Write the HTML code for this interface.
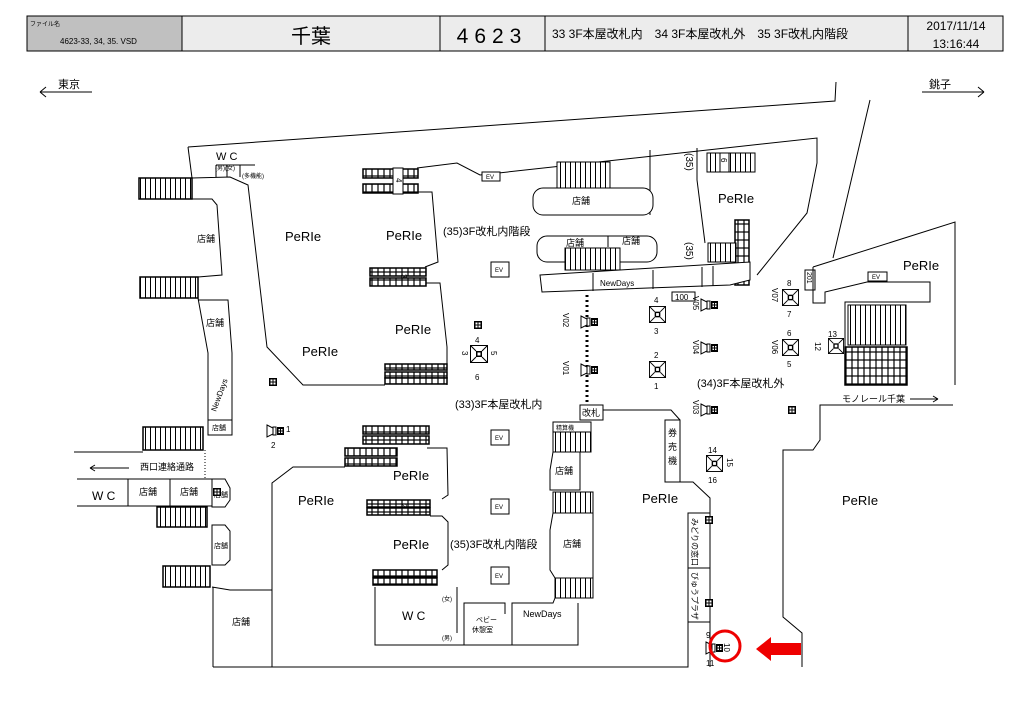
<!DOCTYPE html>
<html><head><meta charset="utf-8"><style>
body{margin:0;background:#fff;}
svg{display:block;font-family:"Liberation Sans","Noto Sans CJK JP",sans-serif;}
.l{fill:none;stroke:#000;stroke-width:1}
.t{font-size:9px}
.p{font-size:13px}
rect[fill="url(#es)"]{stroke:#000;stroke-width:1.5}
</style></head><body>
<svg width="1024" height="724" viewBox="0 0 1024 724" xmlns="http://www.w3.org/2000/svg">
<defs>
<pattern id="st" width="5" height="40" patternUnits="userSpaceOnUse"><rect width="5" height="40" fill="#fff"/><line x1="0.5" y1="0" x2="0.5" y2="40" stroke="#000" stroke-width="1"/></pattern>
<pattern id="es" width="6" height="8" patternUnits="userSpaceOnUse"><rect width="6" height="8" fill="#fff"/><rect x="0" y="0" width="6" height="8" fill="none" stroke="#000" stroke-width="1.2"/></pattern>
<symbol id="cam" viewBox="0 0 18 18"><rect x="0.5" y="0.5" width="17" height="17" fill="#fff" stroke="#000"/><path d="M0.5 0.5L6 6M17.5 0.5L12 6M0.5 17.5L6 12M17.5 17.5L12 12" stroke="#000" fill="none"/><rect x="6" y="6" width="6" height="6" fill="#000"/><rect x="7.5" y="7.5" width="3" height="3" fill="#fff"/></symbol>
<symbol id="vc" viewBox="0 0 18 14"><path d="M1 1L7 4V10L1 13Z" fill="#fff" stroke="#000"/><rect x="7" y="3" width="3" height="8" fill="#fff" stroke="#000"/><rect x="11" y="3" width="7" height="8" fill="#000"/><rect x="12.5" y="5" width="1.5" height="1.5" fill="#fff"/><rect x="15" y="5" width="1.5" height="1.5" fill="#fff"/><rect x="12.5" y="7.5" width="1.5" height="1.5" fill="#fff"/><rect x="15" y="7.5" width="1.5" height="1.5" fill="#fff"/></symbol>
<symbol id="sq" viewBox="0 0 8 8"><rect width="8" height="8" fill="#000"/><rect x="1.5" y="1.5" width="2" height="2" fill="#fff"/><rect x="4.5" y="1.5" width="2" height="2" fill="#fff"/><rect x="1.5" y="4.5" width="2" height="2" fill="#fff"/><rect x="4.5" y="4.5" width="2" height="2" fill="#fff"/></symbol>
</defs>

<!-- header -->
<rect x="27" y="16" width="976" height="35" fill="#ececec" stroke="#000"/>
<rect x="27" y="16" width="155" height="35" fill="#c0c0c0" stroke="#000"/>
<line x1="440" y1="16" x2="440" y2="51" stroke="#000"/>
<line x1="545" y1="16" x2="545" y2="51" stroke="#000"/>
<line x1="908" y1="16" x2="908" y2="51" stroke="#000"/>
<text x="30" y="26" font-size="6">ファイル名</text>
<text x="60" y="44" font-size="8">4623-33, 34, 35. VSD</text>
<text x="311" y="43" font-size="20" text-anchor="middle">千葉</text>
<text x="492" y="43" font-size="21" text-anchor="middle" letter-spacing="6">4623</text>
<text x="552" y="38" font-size="12">33 3F本屋改札内　34 3F本屋改札外　35 3F改札内階段</text>
<text x="956" y="30" font-size="12" text-anchor="middle">2017/11/14</text>
<text x="956" y="48" font-size="12" text-anchor="middle">13:16:44</text>

<!-- direction -->
<text x="58" y="88" font-size="11">東京</text>
<path d="M40 92H92M40 92l6-5M40 92l6 5" class="l"/>
<text x="929" y="88" font-size="11">銚子</text>
<path d="M922 92H984M984 92l-6-5M984 92l-6 5" class="l"/>

<!-- outer top wall -->
<path class="l" d="M188 147L835 101L836 82M870 100L833 258"/>
<!-- left corridor -->
<path class="l" d="M188 147L192 178"/>
<rect x="139" y="178" width="53" height="21" fill="url(#st)" stroke="#000" stroke-width="1.5"/>
<rect x="140" y="277" width="58" height="21" fill="url(#st)" stroke="#000" stroke-width="1.5"/>
<path class="l" d="M192 199H212L217 205L222 275L198 277M198 298L208 353V435H232V353L228 300H198"/>
<line x1="208" y1="420" x2="232" y2="420" stroke="#000"/>
<text x="197" y="242" class="t">店舗</text>
<text x="206" y="326" class="t">店舗</text>
<text x="212" y="430" font-size="7">店舗</text>
<text x="0" y="0" font-size="8" transform="translate(216,412) rotate(-70)">NewDays</text>
<!-- WC top -->
<path class="l" d="M192 178L230 177L248 185L267 347L303 385H385M216 165H255M216 165V177M227 165V177M240 165V177"/>
<text x="216" y="160" font-size="11">W C</text>
<text x="215" y="170" font-size="6">(男)(女)</text>
<text x="242" y="178" font-size="6">(多機能)</text>
<!-- stairs 4 -->
<rect x="363" y="169" width="55" height="9" fill="url(#es)"/>
<rect x="363" y="184" width="55" height="9" fill="url(#es)"/>
<rect x="393" y="168" width="10" height="26" fill="#fff" stroke="#000"/>
<text x="0" y="0" font-size="8" transform="translate(396,178) rotate(90)">4</text>
<path class="l" d="M417 168L457 163L480 175L817 138V163L807 213L757 275M417 192H432L438 262L425 267M425 283H440L447 347V385"/>
<rect x="370" y="268" width="56" height="8" fill="url(#es)"/>
<rect x="370" y="278" width="56" height="8" fill="url(#es)"/>
<text x="0" y="0" font-size="8" transform="translate(401,274) rotate(90)">3</text>
<rect x="385" y="364" width="62" height="6" fill="url(#es)"/>
<rect x="385" y="372" width="62" height="6" fill="url(#es)"/>
<rect x="385" y="378" width="62" height="6" fill="url(#es)"/>
<text x="285" y="241" class="p">PeRIe</text>
<text x="386" y="240" class="p">PeRIe</text>
<text x="302" y="356" class="p">PeRIe</text>
<text x="395" y="334" class="p">PeRIe</text>
<text x="443" y="235" font-size="11">(35)3F改札内階段</text>
<rect x="482" y="172" width="18" height="9" fill="#fff" stroke="#000"/><text x="486" y="179" font-size="6">EV</text>
<rect x="491" y="262" width="18" height="15" fill="#fff" stroke="#000"/><text x="495" y="272" font-size="6">EV</text>

<!-- center top blocks -->
<path class="l" d="M650 150V215M697 148V180L705 243"/>
<rect x="557" y="162" width="53" height="26" fill="url(#st)" stroke="#000"/>
<rect x="533" y="188" width="120" height="27" rx="10" fill="#fff" stroke="#000"/>
<text x="572" y="204" class="t">店舗</text>
<rect x="537" y="236" width="120" height="26" rx="10" fill="#fff" stroke="#000"/>
<line x1="608" y1="236" x2="608" y2="247" stroke="#000"/>
<text x="566" y="246" class="t">店舗</text><text x="622" y="244" class="t">店舗</text>
<rect x="565" y="248" width="55" height="22" fill="url(#st)" stroke="#000"/>
<rect x="707" y="153" width="48" height="19" fill="url(#st)" stroke="#000"/>
<rect x="720" y="153" width="9" height="19" fill="#fff" stroke="#000"/>
<text x="0" y="0" font-size="8" transform="translate(721,158) rotate(90)">6</text>
<text x="0" y="0" font-size="10" transform="translate(686,153) rotate(90)">(35)</text>
<text x="0" y="0" font-size="10" transform="translate(686,242) rotate(90)">(35)</text>
<text x="718" y="203" class="p">PeRIe</text>
<rect x="735" y="220" width="14" height="65" fill="url(#es)"/>
<rect x="708" y="243" width="28" height="19" fill="url(#st)" stroke="#000"/>
<path d="M540 275L750 262V280L730 285L542 292Z" fill="#fff" stroke="#000"/>
<path class="l" d="M593 273V291M653 270V289M702 267V287M713 266V286"/>
<text x="600" y="286" font-size="8">NewDays</text>
<rect x="672" y="292" width="23" height="9" fill="#fff" stroke="#000"/><text x="675" y="300" font-size="8">100</text>
<path d="M587 295V405" stroke="#000" stroke-width="3" stroke-dasharray="2 3"/>
<rect x="580" y="405" width="23" height="15" fill="#fff" stroke="#000"/><text x="582" y="416" font-size="9">改札</text>

<!-- right PeRIe -->
<path class="l" d="M813 267L955 222V385M813 267V303H825V292L867 282H930V302H845V385M805 270H815V290H805Z"/>
<text x="0" y="0" font-size="7" transform="translate(807,272) rotate(90)">201</text>
<rect x="868" y="272" width="19" height="9" fill="#fff" stroke="#000"/><text x="872" y="279" font-size="6">EV</text>
<text x="903" y="270" class="p">PeRIe</text>
<rect x="848" y="305" width="58" height="40" fill="url(#st)" stroke="#000"/>
<rect x="845" y="347" width="62" height="38" fill="url(#es)"/>
<text x="842" y="402" font-size="9">モノレール千葉</text>
<path class="l" d="M910 399H938M938 399l-5-3M938 399l-5 3"/>
<path class="l" d="M953 405H820V440L813 450H783V617L802 633V667"/>
<text x="842" y="505" class="p">PeRIe</text>

<!-- center lower -->
<path class="l" d="M603 410H671L680 420V482H693L710 498V667M213 667H688V622"/>
<rect x="665" y="420" width="15" height="62" fill="#fff" stroke="#000"/>
<text x="668" y="436" font-size="9">券</text><text x="668" y="450" font-size="9">売</text><text x="668" y="464" font-size="9">機</text>
<text x="642" y="503" class="p">PeRIe</text>
<rect x="688" y="513" width="22" height="55" fill="#fff" stroke="#000"/>
<rect x="688" y="568" width="22" height="54" fill="#fff" stroke="#000"/>
<text x="0" y="0" font-size="8" transform="translate(692,518) rotate(90)">みどりの窓口</text>
<text x="0" y="0" font-size="8" transform="translate(692,572) rotate(90)">びゅうプラザ</text>
<text x="455" y="408" font-size="11">(33)3F本屋改札内</text>
<text x="697" y="387" font-size="11">(34)3F本屋改札外</text>
<rect x="553" y="422" width="38" height="10" fill="#fff" stroke="#000"/><text x="556" y="430" font-size="6">精算機</text>
<rect x="553" y="432" width="38" height="20" fill="url(#st)" stroke="#000"/>
<path class="l" d="M553 452L550 470V490H580V452M553 513L550 530V570L555 578"/>
<text x="555" y="474" class="t">店舗</text>
<rect x="553" y="492" width="40" height="21" fill="url(#st)" stroke="#000"/>
<path class="l" d="M593 513V578"/>
<text x="563" y="547" class="t">店舗</text>
<rect x="555" y="578" width="38" height="20" fill="url(#st)" stroke="#000"/>
<path class="l" d="M555 598L553 603H512V645M375 587V645H578V603M457 587V633M464 645V603H505V614"/>
<text x="523" y="617" font-size="9">NewDays</text>
<text x="402" y="620" font-size="12">W C</text>
<text x="442" y="601" font-size="6">(女)</text>
<text x="442" y="640" font-size="6">(男)</text>
<text x="476" y="622" font-size="7">ベビー</text><text x="472" y="632" font-size="7">休憩室</text>
<rect x="491" y="430" width="18" height="15" fill="#fff" stroke="#000"/><text x="495" y="440" font-size="6">EV</text>
<rect x="491" y="499" width="18" height="15" fill="#fff" stroke="#000"/><text x="495" y="509" font-size="6">EV</text>
<rect x="491" y="567" width="18" height="17" fill="#fff" stroke="#000"/><text x="495" y="578" font-size="6">EV</text>
<text x="450" y="548" font-size="11">(35)3F改札内階段</text>

<!-- lower left PeRIe -->
<path class="l" d="M272 667V483L293 467H345M427 448H447L448 495L442 499M430 516H442L448 522V565L442 570"/>
<rect x="363" y="426" width="66" height="8" fill="url(#es)"/>
<rect x="363" y="436" width="66" height="8" fill="url(#es)"/>
<rect x="345" y="448" width="52" height="8" fill="url(#es)"/>
<rect x="345" y="458" width="52" height="8" fill="url(#es)"/>
<rect x="367" y="500" width="63" height="7" fill="url(#es)"/>
<rect x="367" y="508" width="63" height="7" fill="url(#es)"/>
<text x="0" y="0" font-size="7" transform="translate(402,504) rotate(90)">2</text>
<rect x="373" y="570" width="64" height="7" fill="url(#es)"/>
<rect x="373" y="578" width="64" height="7" fill="url(#es)"/>
<text x="393" y="480" class="p">PeRIe</text>
<text x="298" y="505" class="p">PeRIe</text>
<text x="393" y="549" class="p">PeRIe</text>

<!-- west -->
<rect x="143" y="427" width="60" height="23" fill="url(#st)" stroke="#000" stroke-width="1.5"/>
<path class="l" d="M74 452H143M77 479H212M77 506H212M128 479V506M170 479V506M212 479H225L230 488V500L225 507H212V479"/>
<path d="M205 450V479" stroke="#000" stroke-dasharray="1 2"/>
<path class="l" d="M90 468H129M90 468l5-3M90 468l5 3"/>
<text x="140" y="470" font-size="9">西口連絡通路</text>
<text x="92" y="500" font-size="12">W C</text>
<text x="139" y="495" class="t">店舗</text><text x="180" y="495" class="t">店舗</text><text x="214" y="497" font-size="7">店舗</text>
<rect x="157" y="507" width="50" height="20" fill="url(#st)" stroke="#000" stroke-width="1.5"/>
<path class="l" d="M212 525H225L230 531V560L225 565H212Z"/>
<text x="214" y="548" font-size="7">店舗</text>
<rect x="163" y="566" width="47" height="21" fill="url(#st)" stroke="#000" stroke-width="1.5"/>
<path class="l" d="M212 587L230 590H272M213 587V667"/>
<text x="232" y="625" class="t">店舗</text>

<!-- cameras -->
<use href="#cam" x="470" y="345" width="18" height="18"/>
<text x="475" y="343" font-size="8">4</text><text x="475" y="380" font-size="8">6</text>
<text x="0" y="0" font-size="8" transform="translate(462,351) rotate(90)">3</text>
<text x="0" y="0" font-size="8" transform="translate(491,351) rotate(90)">5</text>
<use href="#cam" x="649" y="306" width="17" height="17"/><text x="654" y="303" font-size="8">4</text><text x="654" y="334" font-size="8">3</text>
<use href="#cam" x="649" y="361" width="17" height="17"/><text x="654" y="358" font-size="8">2</text><text x="654" y="389" font-size="8">1</text>
<use href="#cam" x="782" y="289" width="17" height="17"/><text x="787" y="286" font-size="8">8</text><text x="787" y="317" font-size="8">7</text>
<use href="#cam" x="782" y="339" width="17" height="17"/><text x="787" y="336" font-size="8">6</text><text x="787" y="367" font-size="8">5</text>
<use href="#cam" x="706" y="455" width="17" height="17"/><text x="708" y="453" font-size="8">14</text><text x="708" y="483" font-size="8">16</text>
<text x="0" y="0" font-size="8" transform="translate(727,458) rotate(90)">15</text>
<use href="#cam" x="828" y="338" width="16" height="16"/><text x="828" y="337" font-size="8">13</text>
<text x="0" y="0" font-size="8" transform="translate(815,342) rotate(90)">12</text>
<use href="#vc" x="580" y="315" width="18" height="14"/><text x="0" y="0" font-size="8" transform="translate(563,313) rotate(90)">V02</text>
<use href="#vc" x="580" y="363" width="18" height="14"/><text x="0" y="0" font-size="8" transform="translate(563,361) rotate(90)">V01</text>
<use href="#vc" x="700" y="298" width="18" height="14"/><text x="0" y="0" font-size="8" transform="translate(693,296) rotate(90)">V05</text>
<use href="#vc" x="700" y="341" width="18" height="14"/><text x="0" y="0" font-size="8" transform="translate(693,340) rotate(90)">V04</text>
<use href="#vc" x="700" y="403" width="18" height="14"/><text x="0" y="0" font-size="8" transform="translate(693,400) rotate(90)">V03</text>
<text x="0" y="0" font-size="8" transform="translate(772,288) rotate(90)">V07</text>
<text x="0" y="0" font-size="8" transform="translate(772,340) rotate(90)">V06</text>
<use href="#vc" x="266" y="424" width="18" height="14"/>
<text x="286" y="432" font-size="8">1</text><text x="271" y="448" font-size="8">2</text>
<use href="#vc" x="705" y="640" width="18" height="16"/>
<text x="706" y="638" font-size="8">9</text><text x="706" y="666" font-size="8">11</text>
<text x="0" y="0" font-size="8" transform="translate(724,643) rotate(90)">10</text>
<use href="#sq" x="474" y="321" width="8" height="8"/>
<use href="#sq" x="269" y="378" width="8" height="8"/>
<use href="#sq" x="788" y="406" width="8" height="8"/>
<use href="#sq" x="705" y="516" width="8" height="8"/>
<use href="#sq" x="705" y="599" width="8" height="8"/>
<use href="#sq" x="213" y="488" width="8" height="8"/>
<!-- highlight -->
<circle cx="725" cy="646" r="15" fill="none" stroke="#e00" stroke-width="3"/>
<path d="M756 649L771 637V643H801V655H771V661Z" fill="#e00"/>
</svg>
</body></html>
